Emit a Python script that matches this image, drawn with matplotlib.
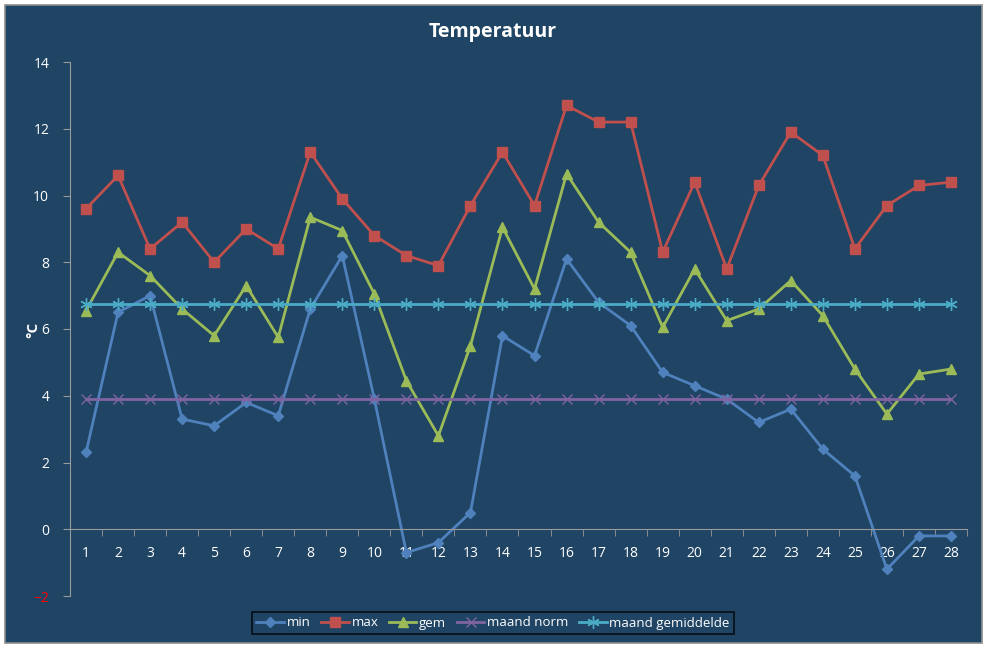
import numpy as np
import matplotlib.pyplot as plt
from matplotlib.patches import Rectangle

days = list(range(1, 29))
t_min = [2.3, 6.5, 7.0, 3.3, 3.1, 3.8, 3.4, 6.6, 8.2, 3.9, -0.7, -0.4, 0.5, 5.8,
         5.2, 8.1, 6.8, 6.1, 4.7, 4.3, 3.9, 3.2, 3.6, 2.4, 1.6, -1.2, -0.2, -0.2]
t_max = [9.6, 10.6, 8.4, 9.2, 8.0, 9.0, 8.4, 11.3, 9.9, 8.8, 8.2, 7.9, 9.7, 11.3,
         9.7, 12.7, 12.2, 12.2, 8.3, 10.4, 7.8, 10.3, 11.9, 11.2, 8.4, 9.7, 10.3, 10.4]
t_gem = [6.55, 8.3, 7.6, 6.6, 5.8, 7.3, 5.75, 9.35, 8.95, 7.05, 4.45, 2.8, 5.5, 9.05,
         7.2, 10.65, 9.2, 8.3, 6.05, 7.8, 6.25, 6.6, 7.45, 6.4, 4.8, 3.45, 4.65, 4.8]
maand_norm = [3.9] * 28
maand_gemiddelde = [6.75] * 28

bg = '#1f4464'
plt.rcParams['font.family'] = ['Open Sans', 'DejaVu Sans']

fig = plt.figure(figsize=(9.87, 6.48), dpi=100)
fig.patch.set_facecolor('white')
fig.patches.append(Rectangle((5 / 987, 5 / 648), 977 / 987, 638 / 648, transform=fig.transFigure,
                             facecolor=bg, edgecolor='#8c8c8c', linewidth=1.2, zorder=-10))

ax = fig.add_axes([70 / 987, 1 - 596 / 648, 897 / 987, 534 / 648])
ax.set_facecolor('none')
ax.set_zorder(1)

lw = 2.0
ax.plot(days, t_min, color='#4f81bd', lw=lw, marker='D', ms=5, label='min')
ax.plot(days, t_max, color='#c0504d', lw=lw, marker='s', ms=7, label='max')
ax.plot(days, t_gem, color='#9bbb59', lw=lw, marker='^', ms=7, label='gem')
ax.plot(days, maand_norm, color='#8064a2', lw=lw, marker='x', ms=7, mew=1, label='maand norm')
ax.plot(days, maand_gemiddelde, color='#4bacc6', lw=lw, marker=(6, 2, 0), ms=9, mew=1,
        label='maand gemiddelde')

ax.set_xlim(0.5, 28.5)
ax.set_ylim(-2, 14)
ax.set_yticks(range(-2, 15, 2))
ax.set_xticks(days)
ax.set_xticks(np.arange(0.5, 29, 1), minor=True)

for s in ['top', 'right']:
    ax.spines[s].set_visible(False)
ax.spines['left'].set_color('#9a9a9a')
ax.spines['bottom'].set_color('#9a9a9a')
ax.spines['bottom'].set_position(('data', 0))

ax.tick_params(axis='x', which='major', length=0, pad=12, colors='white', labelsize=10)
ax.tick_params(axis='x', which='minor', length=5, direction='out', color='#9a9a9a')
ax.tick_params(axis='y', length=5, direction='out', color='#9a9a9a', pad=10,
               labelcolor='white', labelsize=10)
ax.get_yticklabels()[0].set_color('#ff0000')

fig.text(33 / 987, 1 - 330 / 648, '°C', rotation=90, color='white', fontsize=11,
         fontweight='bold', ha='center', va='center')
fig.text(493 / 987, 1 - 32 / 648, 'Temperatuur', color='white', fontsize=14,
         fontweight='bold', ha='center', va='center')

leg = fig.legend(loc='center', bbox_to_anchor=(493 / 987, 1 - 623 / 648), ncol=5,
                 frameon=True, fancybox=False, facecolor=bg, edgecolor='black',
                 fontsize=9.5, handlelength=2.1, columnspacing=0.8, handletextpad=0.2,
                 borderpad=0.35)
leg.get_frame().set_linewidth(1.2)
for t in leg.get_texts():
    t.set_color('white')

fig.savefig('out.png', dpi=100, facecolor='white')
